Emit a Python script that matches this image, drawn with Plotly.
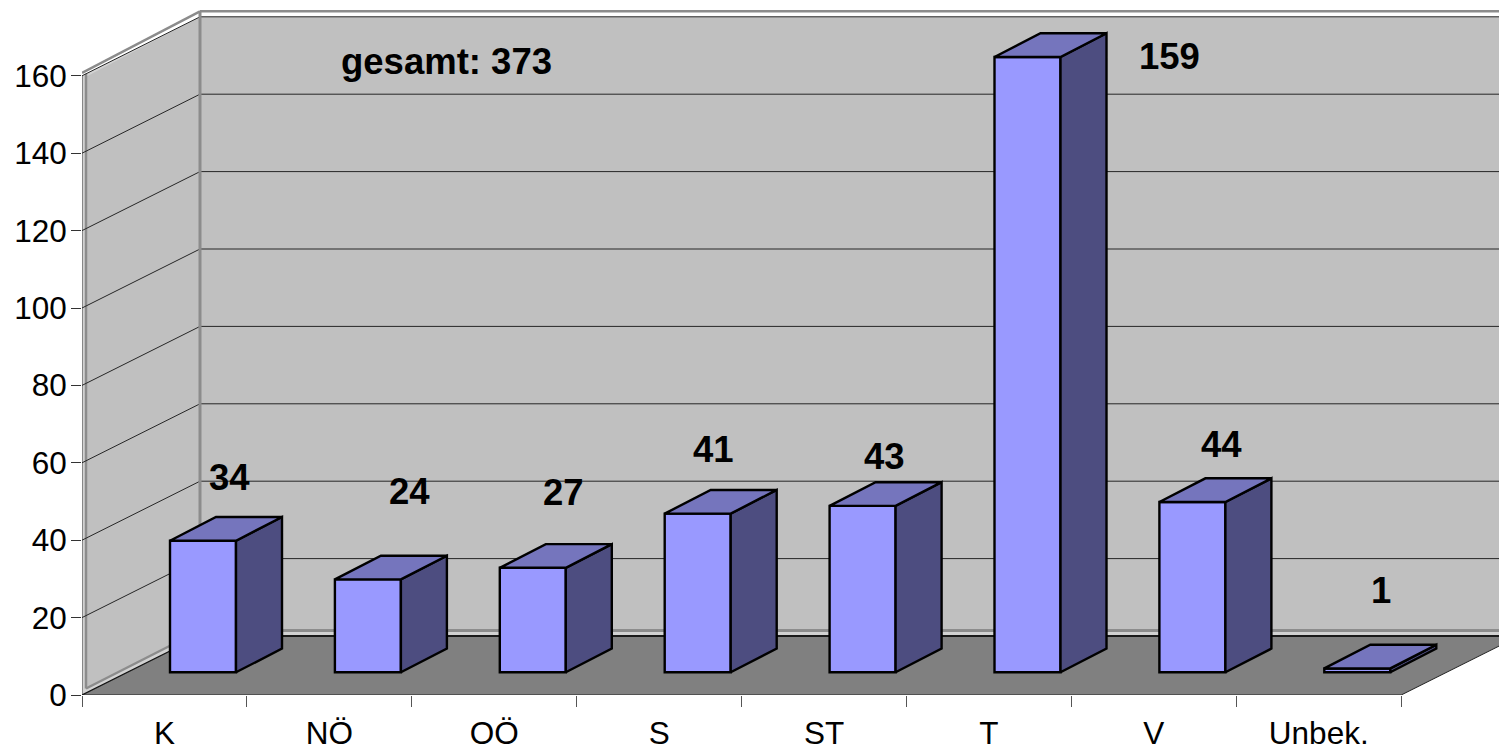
import plotly.graph_objects as go

CATEGORIES = ["K", "NÖ", "OÖ", "S", "ST", "T", "V", "Unbek."]
VALUES = [34, 24, 27, 41, 43, 159, 44, 1]
Y_TICKS = [0, 20, 40, 60, 80, 100, 120, 140, 160]
TOTAL_LABEL = "gesamt: 373"

# --- styling / geometry (pixel scale of the plot area)
PX_PER_CAT = 164.9
PX_PER_VAL = 3.87
W, H = 1499, 749
LEFT, BOTTOM_Y = 82, 695
FONT = "Liberation Sans, Arial, sans-serif"

def cx(px):
    return px / PX_PER_CAT

def vy(px):
    return px / PX_PER_VAL

WALL_DX, WALL_DY = cx(118), vy(59)
BAR_X0 = cx(88)
BAR_W = cx(66)
BAR_BASE = vy(22.7)
BAR_DX, BAR_DY = cx(46), vy(23.7)
YMAX = 160
# (x shift, y shift) of each value label relative to the top of the bar's front face
LABEL_SHIFT = [(26, 63), (42, 88), (31, 75), (16, 64), (22, 49), (142, 0), (29, 58), (24, 78)]

XMAX = (W - LEFT) / PX_PER_CAT
YTOP = BOTTOM_Y / PX_PER_VAL
NCAT = len(CATEGORIES)

FRONT, TOP, SIDE = "#9999FF", "#7575BD", "#4D4D80"
WALL, FLOOR, EDGE, GRID = "#C0C0C0", "#808080", "#8C8C8C", "#262626"
BAND = "#D2D2D2"

def poly(pts, fill="rgba(0,0,0,0)", color=None, width=0):
    path = "M " + " L ".join(f"{x},{y}" for x, y in pts) + " Z"
    return dict(type="path", path=path, xref="x", yref="y", layer="below",
                fillcolor=fill, line=dict(color=color or fill, width=width))

def seg(x0, y0, x1, y1, color, width):
    return dict(type="line", x0=x0, y0=y0, x1=x1, y1=y1, xref="x", yref="y",
                layer="below", line=dict(color=color, width=width))

gap_x, gap_y = cx(4), vy(6.5)
wall_low = WALL_DY + vy(5.5)          # lower edge of the back-wall panel
top_high = YMAX + WALL_DY + vy(5.5)   # outer upper edge of the walls
right = XMAX + 1

shapes = []
# pale band behind the wall panels
shapes.append(poly([(0, 0), (0, YMAX), (WALL_DX, YMAX + WALL_DY), (right, YMAX + WALL_DY),
                    (right, WALL_DY), (WALL_DX, WALL_DY)], BAND))
# white band along the top of the walls
shapes.append(poly([(0, YMAX), (0, YMAX + vy(3)), (WALL_DX, top_high), (right, top_high),
                    (right, YMAX + WALL_DY), (WALL_DX, YMAX + WALL_DY)], "#FFFFFF"))
# back wall panel
shapes.append(poly([(WALL_DX, wall_low), (right, wall_low), (right, YMAX + WALL_DY),
                    (WALL_DX, YMAX + WALL_DY)], WALL))
# side wall panel
shapes.append(poly([(gap_x, gap_y), (gap_x, YMAX - vy(1)), (WALL_DX, YMAX + WALL_DY),
                    (WALL_DX, wall_low)], WALL))
# grey outlines of the walls
shapes.append(seg(gap_x, gap_y, gap_x, YMAX + vy(2), EDGE, 2.5))
shapes.append(seg(0, YMAX + vy(3), WALL_DX, top_high, EDGE, 2.5))
shapes.append(seg(WALL_DX, top_high, right, top_high, EDGE, 2.5))
shapes.append(seg(gap_x, gap_y, WALL_DX, wall_low, EDGE, 2.5))
shapes.append(seg(WALL_DX, wall_low, right, wall_low, EDGE, 3))
shapes.append(seg(0, 0, 0, YMAX, "#555555", 1.2))
# grid lines on both walls
for t in Y_TICKS[1:]:
    shapes.append(seg(0, t, WALL_DX, t + WALL_DY, GRID, 1))
    shapes.append(seg(WALL_DX, t + WALL_DY, right, t + WALL_DY, GRID, 1))
shapes.append(seg(WALL_DX, wall_low, WALL_DX, top_high, EDGE, 3))
# floor
shapes.append(poly([(0, 0), (NCAT, 0), (NCAT + WALL_DX, WALL_DY), (WALL_DX, WALL_DY)], FLOOR))
shapes.append(seg(WALL_DX, WALL_DY, right, WALL_DY, "#1A1A1A", 2))
shapes.append(seg(0, 0, NCAT, 0, "#222222", 1.2))
shapes.append(seg(0, 0, WALL_DX, WALL_DY, "#111111", 1.2))
shapes.append(seg(NCAT, 0, NCAT + WALL_DX, WALL_DY, "#222222", 1))

fig = go.Figure()

lefts = [i + BAR_X0 for i in range(NCAT)]
fig.add_trace(go.Bar(
    x=[l + BAR_W / 2 for l in lefts], y=VALUES, base=BAR_BASE, width=BAR_W,
    marker=dict(color=FRONT, line=dict(color="black", width=2.4)),
    hoverinfo="skip", showlegend=False, cliponaxis=True,
))

for l, v in zip(lefts, VALUES):
    r = l + BAR_W
    top = BAR_BASE + v
    fig.add_trace(go.Scatter(
        x=[r, r + BAR_DX, r + BAR_DX, r, r],
        y=[BAR_BASE, BAR_BASE + BAR_DY, top + BAR_DY, top, BAR_BASE],
        mode="lines", fill="toself", fillcolor=SIDE,
        line=dict(color="black", width=2.4), hoverinfo="skip", showlegend=False))
    fig.add_trace(go.Scatter(
        x=[l, l + BAR_DX, r + BAR_DX, r, l],
        y=[top, top + BAR_DY, top + BAR_DY, top, top],
        mode="lines", fill="toself", fillcolor=TOP,
        line=dict(color="black", width=2.4), hoverinfo="skip", showlegend=False))

annotations = []
for l, v, (sx, sy) in zip(lefts, VALUES, LABEL_SHIFT):
    annotations.append(dict(x=l + BAR_W / 2, y=BAR_BASE + v, xref="x", yref="y", text=f"<b>{v}</b>",
                            showarrow=False, xshift=sx, yshift=sy,
                            font=dict(family=FONT, size=36.5, color="black")))
annotations.append(dict(x=cx(446 - LEFT), y=vy(BOTTOM_Y - 61), xref="x", yref="y",
                        text=f"<b>{TOTAL_LABEL}</b>", showarrow=False,
                        font=dict(family=FONT, size=36.5, color="black")))

fig.update_layout(
    width=W, height=H, margin=dict(l=LEFT, r=0, t=0, b=H - BOTTOM_Y, autoexpand=False),
    paper_bgcolor="white", plot_bgcolor="white",
    shapes=shapes, annotations=annotations, showlegend=False,
    font=dict(family=FONT, size=31.5, color="black"),
    xaxis=dict(range=[0, XMAX], tickmode="array", tickvals=[i + 0.5 for i in range(NCAT)],
               ticktext=CATEGORIES, ticks="", ticklen=0, showgrid=False, zeroline=False,
               showline=False, ticklabelstandoff=16, automargin=False,
               minor=dict(tickmode="array", tickvals=list(range(NCAT + 1)), ticks="outside",
                          ticklen=11, tickwidth=1, tickcolor="#555555", showgrid=False)),
    yaxis=dict(range=[0, YTOP], tickmode="array", tickvals=Y_TICKS, ticks="outside", ticklen=10,
               tickcolor="#333333", tickwidth=1, showgrid=False, zeroline=False, showline=False,
               ticklabelstandoff=-2, automargin=False),
)

fig.write_html("out.html", config={"displayModeBar": False},
               post_script="document.body.style.margin='0';document.body.style.overflow='hidden';")
